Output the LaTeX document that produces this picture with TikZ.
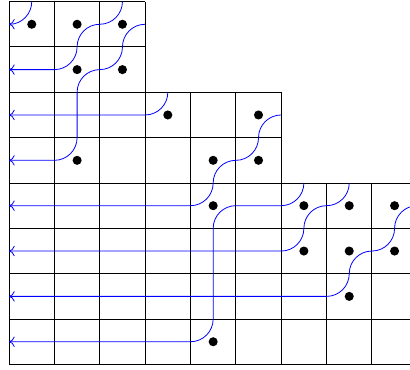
\documentclass[tikz,border=0pt]{standalone}
\usetikzlibrary{arrows.meta}
\begin{document}
\begin{tikzpicture}[
  cellgrid/.style={line width=0.6pt},
  pipe/.style={blue, line width=0.5pt, -{To[length=3.5pt,width=6.5pt]}},
  dot/.style={fill=black},
]
  \clip (-0.2,0.035) rectangle (8.84,-8.11);
  % diagram of shape (3,3,6,6,9,9,9,9)
  \draw[cellgrid] (0,-2) grid (3,0);
  \draw[cellgrid] (0,-4) grid (6,-2);
  \draw[cellgrid] (0,-8) grid (9,-4);
  % pipes
  \draw[pipe] (0.5,0) arc(0:-90:.5);
  \draw[pipe] (2.5,0) arc(0:-90:.5) arc(90:180:.5) arc(0:-90:.5) -- (0,-1.5);
  \draw[pipe] (3.5,-2) arc(0:-90:.5) -- (0,-2.5);
  \draw[pipe] (3,-0.5) arc(90:180:.5) arc(0:-90:.5) arc(90:180:.5)
    -- (1.5,-3) arc(0:-90:.5) -- (0,-3.5);
  \draw[pipe] (6,-2.5) arc(90:180:.5) arc(0:-90:.5) arc(90:180:.5)
    arc(0:-90:.5) -- (0,-4.5);
  \draw[pipe] (7.5,-4) arc(0:-90:.5) arc(90:180:.5) arc(0:-90:.5) -- (0,-5.5);
  \draw[pipe] (9,-4.5) arc(90:180:.5) arc(0:-90:.5) arc(90:180:.5)
    arc(0:-90:.5) -- (0,-6.5);
  \draw[pipe] (6.5,-4) arc(0:-90:.5) -- (5,-4.5) arc(90:180:.5)
    -- (4.5,-7) arc(0:-90:.5) -- (0,-7.5);
  % dots
  \foreach \r/\c in {1/1,1/2,1/3,2/2,2/3,3/4,3/6,4/2,4/5,4/6,
                     5/5,5/7,5/8,5/9,6/7,6/8,6/9,7/8,8/5}
    \fill[dot] ({\c-.5},{.5-\r}) circle (0.1);
\end{tikzpicture}
\end{document}
